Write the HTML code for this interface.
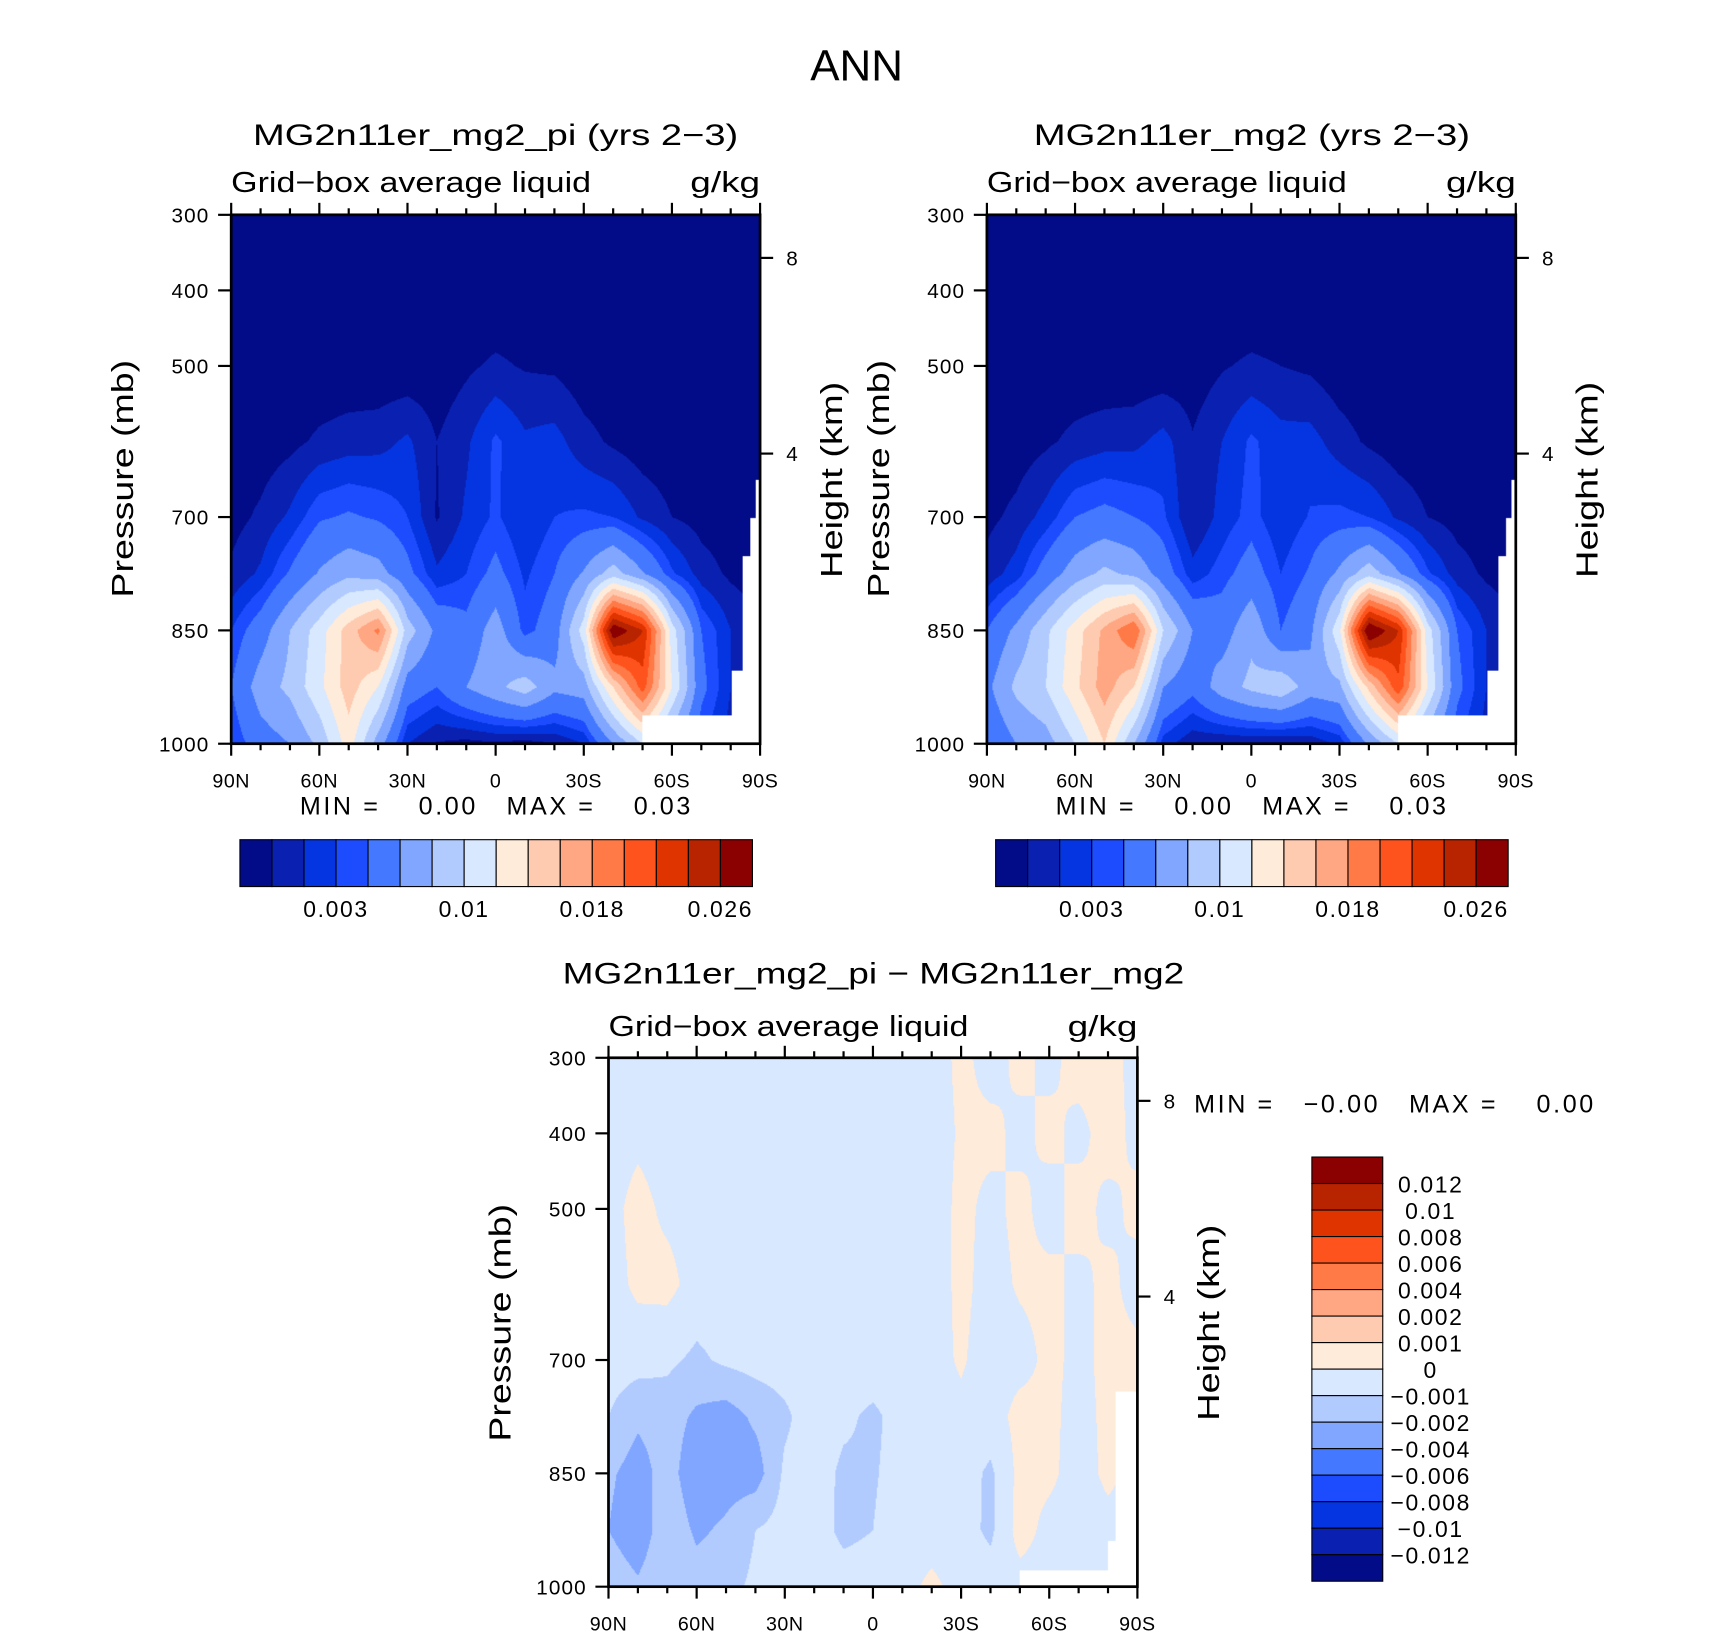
<!DOCTYPE html>
<html><head><meta charset="utf-8"><style>
html,body{margin:0;padding:0;background:#fff;}
body{width:1710px;height:1636px;overflow:hidden;position:relative;}
#wrap{position:absolute;left:0;top:0;width:1568px;height:1500px;transform:scale(1.0905);transform-origin:0 0;}
canvas{position:absolute;}
svg{position:absolute;left:0;top:0;}
text{font-family:"Liberation Sans",sans-serif;fill:#000;}
</style></head><body>
<div id="wrap">
<canvas id="c1" width="485" height="485" style="left:212px;top:197px"></canvas>
<canvas id="c2" width="485" height="485" style="left:905px;top:197px"></canvas>
<canvas id="c3" width="485" height="485" style="left:558px;top:970px"></canvas>
<svg id="svg" width="1568" height="1500" viewBox="0 0 1568 1500">
<text x="743" y="74" font-size="40" textLength="85" lengthAdjust="spacingAndGlyphs">ANN</text>
<text x="232" y="133" font-size="27" textLength="445" lengthAdjust="spacingAndGlyphs">MG2n11er_mg2_pi (yrs 2−3)</text>
<text x="212" y="176" font-size="26" textLength="330" lengthAdjust="spacingAndGlyphs">Grid−box average liquid</text>
<text x="633" y="176" font-size="26" textLength="64" lengthAdjust="spacingAndGlyphs">g/kg</text>
<text x="948" y="133" font-size="27" textLength="400" lengthAdjust="spacingAndGlyphs">MG2n11er_mg2 (yrs 2−3)</text>
<text x="905" y="176" font-size="26" textLength="330" lengthAdjust="spacingAndGlyphs">Grid−box average liquid</text>
<text x="1326" y="176" font-size="26" textLength="64" lengthAdjust="spacingAndGlyphs">g/kg</text>
<text x="516" y="902" font-size="27" textLength="570" lengthAdjust="spacingAndGlyphs">MG2n11er_mg2_pi − MG2n11er_mg2</text>
<text x="558" y="950" font-size="26" textLength="330" lengthAdjust="spacingAndGlyphs">Grid−box average liquid</text>
<text x="979" y="950" font-size="26" textLength="64" lengthAdjust="spacingAndGlyphs">g/kg</text>
<text transform="translate(122,439) rotate(-90)" font-size="28" text-anchor="middle" textLength="218" lengthAdjust="spacingAndGlyphs">Pressure (mb)</text>
<text transform="translate(772,440) rotate(-90)" font-size="28" text-anchor="middle" textLength="180" lengthAdjust="spacingAndGlyphs">Height (km)</text>
<text transform="translate(815,439) rotate(-90)" font-size="28" text-anchor="middle" textLength="218" lengthAdjust="spacingAndGlyphs">Pressure (mb)</text>
<text transform="translate(1465,440) rotate(-90)" font-size="28" text-anchor="middle" textLength="180" lengthAdjust="spacingAndGlyphs">Height (km)</text>
<text transform="translate(468,1213) rotate(-90)" font-size="28" text-anchor="middle" textLength="218" lengthAdjust="spacingAndGlyphs">Pressure (mb)</text>
<text transform="translate(1118,1213) rotate(-90)" font-size="28" text-anchor="middle" textLength="180" lengthAdjust="spacingAndGlyphs">Height (km)</text>
<text x="275" y="747" font-size="23" xml:space="preserve" textLength="358" lengthAdjust="spacing">MIN =    0.00   MAX =    0.03</text>
<text x="968" y="747" font-size="23" xml:space="preserve" textLength="358" lengthAdjust="spacing">MIN =    0.00   MAX =    0.03</text>
<text x="1095" y="1020" font-size="23" xml:space="preserve" textLength="366" lengthAdjust="spacing">MIN =   −0.00   MAX =    0.00</text>
</svg>
</div>
<script>
const lats=[90,80,70,60,50,40,30,20,10,0,-10,-20,-30,-40,-50,-60,-70,-80,-90];
const pres=[300,400,500,600,700,775,850,925,1000];
const latTicks=[90,60,30,0,-30,-60,-90];
const latTickLabels=["90N","60N","30N","0","30S","60S","90S"];
const presTicks=[300,400,500,700,850,1000];
const heightTicks=[8,4];
const heightTickP=[357,616];
const levels1=[0.001,0.002,0.003,0.004,0.006,0.008,0.01,0.012,0.014,0.016,0.018,0.02,0.022,0.024,0.026];
const cbLabels1=["0.003","0.01","0.018","0.026"];
const cbLabelIdx1=[3,7,11,15];
const levels3=[-0.012,-0.01,-0.008,-0.006,-0.004,-0.002,-0.001,0,0.001,0.002,0.004,0.006,0.008,0.01,0.012];
const cbLabels3=["−0.012","−0.01","−0.008","−0.006","−0.004","−0.002","−0.001","0","0.001","0.002","0.004","0.006","0.008","0.01","0.012"];
const colors=["#020b88","#0a20b0","#0535e0","#1d4cff","#4479ff","#80a6ff","#b2cbff","#d7e8ff","#ffebda","#ffcbb0","#ffa682","#ff7a46","#ff531d","#e03400","#b82300","#8b0000"];
const missLat=[-50,-80.5,-84,-86.5,-88.5];
const missP=[963,903,752,701,651];
const missLat3=[-50,-80,-82.5];
const missP3=[978,940,742];
const grid1=[
[.0001,.0001,.0001,.0001,.0001,.0001,.0001,.0001,.0001,.0001,.0001,.0001,.0001,.0001,.0001,.0001,.0001,.0001,.0001],
[.0001,.0001,.0001,.0001,.0001,.0001,.0001,.0001,.0001,.0001,.0001,.0001,.0001,.0001,.0001,.0001,.0001,.0001,.0001],
[.0002,.0002,.0002,.0002,.0002,.0002,.0002,.0003,.0008,.0012,.0009,.0008,.0003,.0002,.0002,.0002,.0002,.0002,.0002],
[.0003,.0004,.0007,.0012,.0015,.0016,.0022,.0010,.0018,.0032,.0022,.0024,.0014,.0008,.0004,.0003,.0002,.0002,.0002],
[.0006,.0012,.0022,.0038,.0042,.0038,.0030,.0009,.0022,.0032,.0020,.0030,.0032,.0030,.0018,.0010,.0006,.0004,.0003],
[.0012,.0022,.0042,.0062,.0075,.0068,.0045,.0022,.0030,.0045,.0028,.0040,.0062,.0090,.0062,.0032,.0015,.0008,.0005],
[.0030,.0050,.0080,.0110,.0150,.0185,.0090,.0055,.0045,.0070,.0035,.0050,.0110,.0280,.0240,.0110,.0040,.0020,.0010],
[.0040,.0070,.0085,.0115,.0150,.0120,.0050,.0040,.0060,.0075,.0090,.0065,.0070,.0140,.0210,.0120,.0045,.0020,.0010],
[.0030,.0050,.0060,.0085,.0130,.0070,.0020,.0009,.0006,.0008,.0005,.0010,.0020,.0060,.0100,.0060,.0030,.0015,.0010]];
const grid2=[
[.0001,.0001,.0001,.0001,.0001,.0001,.0001,.0001,.0001,.0001,.0001,.0001,.0001,.0001,.0001,.0001,.0001,.0001,.0001],
[.0001,.0001,.0001,.0001,.0001,.0001,.0001,.0001,.0001,.0001,.0001,.0001,.0001,.0001,.0001,.0001,.0001,.0001,.0001],
[.0002,.0002,.0002,.0002,.0002,.0002,.0002,.0004,.0009,.0012,.0010,.0008,.0003,.0002,.0002,.0002,.0002,.0002,.0002],
[.0003,.0004,.0008,.0013,.0016,.0017,.0024,.0011,.0020,.0032,.0024,.0024,.0015,.0008,.0004,.0003,.0002,.0002,.0002],
[.0007,.0013,.0024,.0040,.0045,.0040,.0032,.0010,.0024,.0034,.0022,.0031,.0033,.0030,.0018,.0010,.0006,.0004,.0003],
[.0014,.0025,.0048,.0070,.0085,.0075,.0050,.0024,.0035,.0048,.0030,.0042,.0064,.0092,.0062,.0032,.0015,.0008,.0005],
[.0040,.0065,.0095,.0130,.0165,.0200,.0100,.0060,.0050,.0075,.0040,.0055,.0115,.0285,.0240,.0110,.0040,.0020,.0010],
[.0055,.0085,.0100,.0135,.0170,.0140,.0060,.0045,.0070,.0085,.0095,.0070,.0075,.0145,.0215,.0120,.0045,.0020,.0010],
[.0040,.0060,.0070,.0100,.0140,.0080,.0025,.0012,.0010,.0010,.0008,.0012,.0022,.0062,.0100,.0060,.0030,.0015,.0010]];
const grid3=[
[-.0004,-.0004,-.0004,-.0004,-.0004,-.0004,-.0004,-.0004,-.0004,-.0004,-.0004,-.0004,.0002,-.0003,.0002,-.0002,.0003,.0002,-.0002],
[-.0004,-.0002,-.0004,-.0004,-.0004,-.0004,-.0004,-.0004,-.0004,-.0004,-.0004,-.0004,.0001,.0002,-.0002,.0002,-.0002,.0003,-.0002],
[-.0003,.0003,-.0002,-.0004,-.0004,-.0004,-.0004,-.0004,-.0004,-.0004,-.0004,-.0004,.0002,-.0002,.0002,-.0003,.0003,-.0002,.0002],
[-.0004,.0002,.0003,-.0004,-.0004,-.0004,-.0004,-.0004,-.0004,-.0004,-.0004,-.0004,.0002,-.0003,.0001,.0002,-.0002,.0002,-.0003],
[-.0005,-.0006,-.0008,-.0012,-.0008,-.0006,-.0005,-.0004,-.0004,-.0004,-.0004,-.0003,.0001,-.0004,-.0003,.0002,-.0002,.0002,.0002],
[-.0010,-.0018,-.0015,-.0022,-.0025,-.0018,-.0012,-.0004,-.0008,-.0012,-.0006,-.0003,-.0002,-.0004,.0003,.0002,-.0003,.0002,-.0002],
[-.0018,-.0025,-.0015,-.0028,-.0025,-.0025,-.0008,-.0005,-.0012,-.0011,-.0006,-.0004,-.0005,-.0012,.0003,.0002,-.0004,.0002,-.0003],
[-.0020,-.0028,-.0012,-.0022,-.0018,-.0010,-.0006,-.0004,-.0013,-.0010,-.0005,-.0004,-.0006,-.0012,.0004,-.0003,-.0004,-.0003,-.0003],
[-.0012,-.0018,-.0010,-.0015,-.0013,-.0008,-.0005,-.0004,-.0004,-.0004,-.0003,.0002,-.0003,-.0005,-.0004,-.0004,-.0004,-.0004,-.0004]];

const PW=485,PH=485;
function xScale(x0,lat){return x0+(90-lat)/180*PW;}
function yScale(y0,p){return y0+(p-300)/700*PH;}
function hexRGB(h){return [parseInt(h.substr(1,2),16),parseInt(h.substr(3,2),16),parseInt(h.substr(5,2),16)];}
function sample(grid,lat,p){
  let fx=(90-lat)/10; let i=Math.min(17,Math.floor(fx)); let t=fx-i;
  let j=0; while(j<pres.length-2&&p>pres[j+1]) j++;
  let u=(p-pres[j])/(pres[j+1]-pres[j]);
  const a=grid[j][i],b=grid[j][i+1],c=grid[j+1][i],d=grid[j+1][i+1];
  return (a*(1-t)+b*t)*(1-u)+(c*(1-t)+d*t)*u;
}
function drawPanel(id,grid,levels,mL,mP){
  const cv=document.getElementById(id),ctx=cv.getContext('2d');
  const img=ctx.createImageData(PW,PH); const rgb=colors.map(hexRGB);
  for(let py=0;py<PH;py++){const p=300+(py+0.5)/PH*700;
    for(let px=0;px<PW;px++){const lat=90-(px+0.5)/PW*180;
      let miss=false; for(let k=0;k<mL.length;k++){if(lat<=mL[k]&&p>mP[k])miss=true;}
      const o=(py*PW+px)*4;
      if(miss){img.data[o]=255;img.data[o+1]=255;img.data[o+2]=255;img.data[o+3]=255;continue;}
      const v=sample(grid,lat,p); let k=0; while(k<levels.length&&v>=levels[k])k++;
      const c=rgb[k]; img.data[o]=c[0];img.data[o+1]=c[1];img.data[o+2]=c[2];img.data[o+3]=255;}}
  ctx.putImageData(img,0,0);
}
drawPanel('c1',grid1,levels1,missLat,missP);
drawPanel('c2',grid2,levels1,missLat,missP);
drawPanel('c3',grid3,levels3,missLat3,missP3);

const NS='http://www.w3.org/2000/svg'; const svg=document.getElementById('svg');
function mk(tag,attrs,txt){const e=document.createElementNS(NS,tag);for(const k in attrs)e.setAttribute(k,attrs[k]);if(txt!==undefined)e.textContent=txt;svg.appendChild(e);return e;}
function axes(x0,y0,pfx){
  let e;
  e=mk('rect',{x:x0,y:y0,width:PW,height:PH,fill:'none',stroke:'#000','stroke-width':2.5});
  
  
  for(let lat=90;lat>=-90;lat-=10){
    const x=xScale(x0,lat); const major=latTicks.indexOf(lat)>=0; const L=major?11:6;
    e=mk('line',{x1:x,x2:x,y1:y0+PH,y2:y0+PH+L,stroke:'#000','stroke-width':2});
    
    
    e=mk('line',{x1:x,x2:x,y1:y0,y2:y0-L,stroke:'#000','stroke-width':2});
    
    
  }
  latTicks.forEach((lat,i)=>{
    e=mk('text',{x:xScale(x0,lat),y:y0+PH+40,'font-size':18,'letter-spacing':0.5,'text-anchor':'middle'},latTickLabels[i]);
    
    
  });
  presTicks.forEach(p=>{
    const y=yScale(y0,p);
    e=mk('line',{x1:x0-12,x2:x0,y1:y,y2:y,stroke:'#000','stroke-width':2});
    
    
    e=mk('text',{x:x0-20,y:y+7,'font-size':19,'letter-spacing':1,'text-anchor':'end'},String(p));
    
    
  });
  heightTicks.forEach((h,i)=>{
    const y=yScale(y0,heightTickP[i]);
    e=mk('line',{x1:x0+PW,x2:x0+PW+12,y1:y,y2:y,stroke:'#000','stroke-width':2});
    
    
    e=mk('text',{x:x0+PW+24,y:y+7,'font-size':19},String(h));
    
    
  });
}
axes(212,197,'left'); axes(905,197,'right'); axes(558,970,'diff');
function hbar(x0,pfx){
  const w=470/16; let e;
  for(let i=0;i<16;i++){
    e=mk('rect',{x:x0+i*w,y:770,width:w,height:43,fill:colors[i],stroke:'#000','stroke-width':1});
    
    
  }
  cbLabels1.forEach((l,i)=>{
    e=mk('text',{x:x0+cbLabelIdx1[i]*w,y:841,'font-size':21,'letter-spacing':1.5,'text-anchor':'middle'},l);
    
    
  });
}
hbar(220,'left'); hbar(913,'right');
(function(){
  const y0=1061,h=389/16; let e;
  for(let i=0;i<16;i++){
    e=mk('rect',{x:1203,y:y0+i*h,width:65,height:h,fill:colors[15-i],stroke:'#000','stroke-width':1});
    
    
  }
  for(let i=0;i<15;i++){
    e=mk('text',{x:1312,y:y0+(i+1)*h+8,'font-size':21,'letter-spacing':1.5,'text-anchor':'middle'},cbLabels3[14-i]);
    
    
  }
})();
</script>
</body></html>
